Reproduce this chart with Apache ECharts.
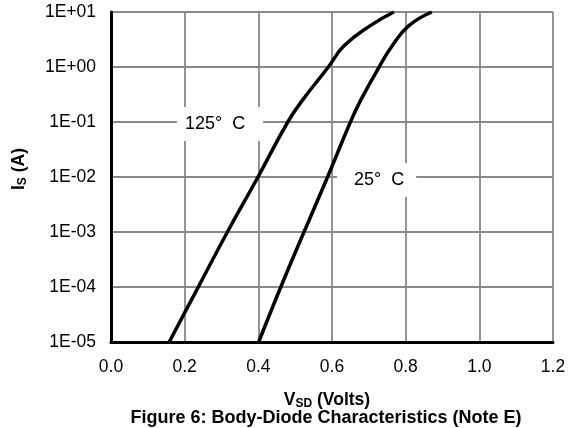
<!DOCTYPE html>
<html>
<head>
<meta charset="utf-8">
<script src="https://cdn.jsdelivr.net/npm/echarts@6/dist/echarts.min.js"></script>
<style>html,body{margin:0;padding:0;background:#fff}#c{width:574px;height:428px}</style>
</head>
<body>
<div id="c"></div>
<script>
var xTicks = [0.0, 0.2, 0.4, 0.6, 0.8, 1.0, 1.2];
var yTickLabels = ['1E-05', '1E-04', '1E-03', '1E-02', '1E-01', '1E+00', '1E+01'];
var vsd125 = [0.158, 0.237, 0.316, 0.399, 0.480, 0.520, 0.590, 0.632, 0.703, 0.768];
var is125  = [1e-5, 1e-4, 1e-3, 1e-2, 0.1, 0.25, 1, 2.4, 5.6, 10];
var vsd25  = [0.401, 0.461, 0.524, 0.588, 0.650, 0.678, 0.728, 0.763, 0.808, 0.871];
var is25   = [1e-5, 1e-4, 1e-3, 1e-2, 0.1, 0.25, 1, 2.4, 5.6, 10];
var curveLabels = ['125\u00b0  C', '25\u00b0  C'];
var labelPos = [[0.296, 0.092], [0.721, 0.0088]];
var caption = 'Figure 6: Body-Diode Characteristics (Note E)';

function pairs(xs, ys) { return xs.map(function (x, i) { return [x, ys[i]]; }); }

var font = 'Liberation Sans, Arial, sans-serif';
var subStyle = { fontFamily: font, fontSize: 12, fontWeight: 'bold', color: '#000', verticalAlign: 'bottom', padding: [8, 0, 0, 0] };
var chart = echarts.init(document.getElementById('c'));
chart.setOption({
  animation: false,
  backgroundColor: '#fff',
  grid: { left: 111, right: 21, top: 12, bottom: 86 },
  xAxis: {
    type: 'value', min: 0, max: 1.2, interval: 0.2,
    name: 'V{sub|SD} (Volts)', nameLocation: 'middle', nameGap: 48,
    nameTextStyle: { fontFamily: font, fontSize: 17.5, fontWeight: 'bold', color: '#000', padding: [0, 10, 0, 0],
      rich: { sub: subStyle } },
    axisLine: { show: true, onZero: false, lineStyle: { color: '#000', width: 3 } },
    axisTick: { show: false },
    axisLabel: { color: '#000', fontFamily: font, fontSize: 17.5, margin: 16,
      formatter: function (v) { return v.toFixed(1); } },
    splitLine: { show: true, lineStyle: { color: '#888', width: 1.8 } }
  },
  yAxis: {
    type: 'log', logBase: 10, min: 1e-5, max: 10,
    name: 'I{sub|S} (A)', nameLocation: 'middle', nameGap: 82,
    nameTextStyle: { fontFamily: font, fontSize: 17.5, fontWeight: 'bold', color: '#000', padding: [0, 0, 0, 16],
      rich: { sub: subStyle } },
    axisLine: { show: true, onZero: false, lineStyle: { color: '#000', width: 3 } },
    axisTick: { show: false },
    axisLabel: { color: '#000', fontFamily: font, fontSize: 17.5, margin: 15,
      formatter: function (v) {
        var e = Math.round(Math.log10(v));
        return yTickLabels[e + 5];
      } },
    splitLine: { show: true, lineStyle: { color: '#888', width: 1.8 } }
  },
  graphic: [{
    type: 'text', x: 326, y: 418,
    style: { text: caption, fontFamily: font, fontSize: 18, fontWeight: 'bold', fill: '#000',
      align: 'center', verticalAlign: 'middle' }
  }],
  series: [
    { type: 'line', data: pairs(vsd125, is125), smooth: 0.45, showSymbol: false,
      lineStyle: { color: '#000', width: 3.5 }, z: 3,
      markPoint: { symbol: 'rect', symbolSize: 0, silent: true,
        data: [{ coord: labelPos[0], label: { show: true, formatter: curveLabels[0], position: 'inside',
          color: '#000', fontFamily: font, fontSize: 18, backgroundColor: '#fff', padding: [13, 18, 3, 8] } }] } },
    { type: 'line', data: pairs(vsd25, is25), smooth: 0.45, showSymbol: false,
      lineStyle: { color: '#000', width: 3.5 }, z: 3,
      markPoint: { symbol: 'rect', symbolSize: 0, silent: true,
        data: [{ coord: labelPos[1], label: { show: true, formatter: curveLabels[1], position: 'inside',
          color: '#000', fontFamily: font, fontSize: 18, backgroundColor: '#fff', padding: [13, 12, 3, 17] } }] } }
  ]
});
</script>
</body>
</html>
